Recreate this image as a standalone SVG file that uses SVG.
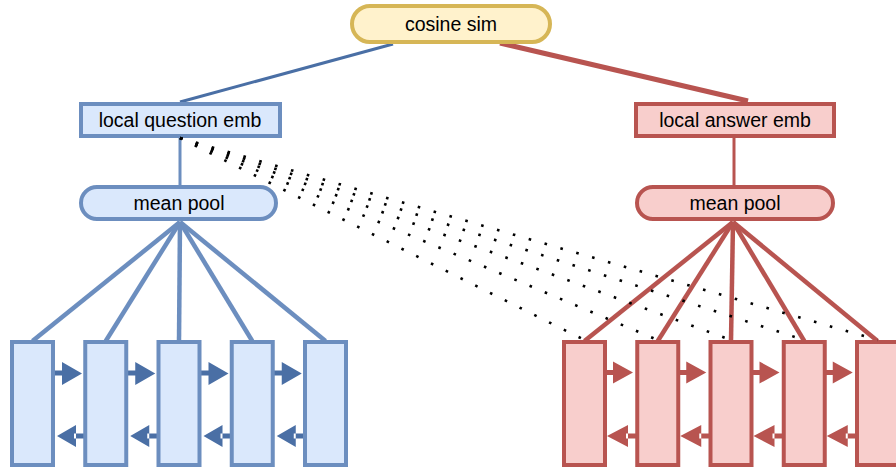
<svg xmlns="http://www.w3.org/2000/svg" width="896" height="474" viewBox="0 0 896 474">
<defs>
<style>
text{font-family:"Liberation Sans",Arial,sans-serif;font-size:19.5px;fill:#000;text-anchor:middle;dominant-baseline:central}
.q{fill:#dae8fc;stroke:#6c8ebf;stroke-width:4}
.a{fill:#f8cecc;stroke:#b85450;stroke-width:4}
.c{fill:#fff2cc;stroke:#d6b656;stroke-width:4}
.ql{stroke:#6c8ebf;stroke-width:4.5;fill:none}
.al{stroke:#b85450;stroke-width:4.5;fill:none}
.dot{stroke:#000;stroke-width:2.6;stroke-dasharray:2.6 13.9;fill:none}
.qa{fill:#4a6fa5}
.aa{fill:#b85450}
</style>
</defs>
<g id="connectors">
<line x1="393" y1="44" x2="180" y2="102" stroke="#4a6fa5" stroke-width="3"/>
<line x1="500" y1="43" x2="748" y2="101" stroke="#b85450" stroke-width="5"/>
<line x1="180" y1="138" x2="180" y2="185" stroke="#6c8ebf" stroke-width="3"/>
<line x1="734" y1="138" x2="734" y2="185" stroke="#b85450" stroke-width="3"/>
<g class="ql">
<line x1="180" y1="222" x2="32.5" y2="341"/>
<line x1="180" y1="222" x2="105.75" y2="341"/>
<line x1="180" y1="222" x2="179" y2="341"/>
<line x1="180" y1="222" x2="252.25" y2="341"/>
<line x1="180" y1="222" x2="325.5" y2="341"/>
</g>
<g class="al">
<line x1="733" y1="222" x2="584.5" y2="341"/>
<line x1="733" y1="222" x2="657.75" y2="341"/>
<line x1="733" y1="222" x2="731" y2="341"/>
<line x1="733" y1="222" x2="804.25" y2="341"/>
<line x1="733" y1="222" x2="877.5" y2="341"/>
</g>
<g id="qarrows" class="qa">
<path d="M54 370.5h10v5h-10z M62 362L82 373.5L62 385z"/>
<path d="M127.25 370.5h10v5h-10z M135.25 362L155.25 373.5L135.25 385z"/>
<path d="M200.5 370.5h10v5h-10z M208.5 362L228.5 373.5L208.5 385z"/>
<path d="M273.75 370.5h10v5h-10z M281.75 362L301.75 373.5L281.75 385z"/>
<path d="M74 433.5h10v5h-10z M76 425L57 436L76 447z"/>
<path d="M147.25 433.5h10v5h-10z M149.25 425L130.25 436L149.25 447z"/>
<path d="M220.5 433.5h10v5h-10z M222.5 425L203.5 436L222.5 447z"/>
<path d="M293.75 433.5h10v5h-10z M295.75 425L276.75 436L295.75 447z"/>
</g>
<g id="aarrows" class="aa">
<path d="M605 370h10v5h-10z M613 361.5L633 372.5L613 383.5z"/>
<path d="M678.25 370h10v5h-10z M686.25 361.5L706.25 372.5L686.25 383.5z"/>
<path d="M751.5 370h10v5h-10z M759.5 361.5L779.5 372.5L759.5 383.5z"/>
<path d="M824.75 370h10v5h-10z M832.75 361.5L852.75 372.5L832.75 383.5z"/>
<path d="M626 433.5h10v5h-10z M628 425L607 436L628 447z"/>
<path d="M699.25 433.5h10v5h-10z M701.25 425L680.25 436L701.25 447z"/>
<path d="M772.5 433.5h10v5h-10z M774.5 425L753.5 436L774.5 447z"/>
<path d="M845.75 433.5h10v5h-10z M847.75 425L826.75 436L847.75 447z"/>
</g>
</g>
<g id="cosine"><rect class="c" x="352" y="6" width="198" height="36" rx="18"/><text x="451" y="24">cosine sim</text></g>
<g id="q-emb"><rect class="q" x="81" y="104" width="199" height="32"/><text x="180" y="120">local question emb</text></g>
<g id="a-emb"><rect class="a" x="636" y="104" width="198" height="32"/><text x="735" y="120">local answer emb</text></g>
<g id="q-pool"><rect class="q" x="81" y="187" width="195" height="32" rx="16"/><text x="179" y="203">mean pool</text></g>
<g id="a-pool"><rect class="a" x="637" y="187" width="196" height="32" rx="16"/><text x="735" y="203">mean pool</text></g>
<g id="q1"><rect class="q" x="12" y="342" width="41" height="123"/></g>
<g id="q2"><rect class="q" x="85.25" y="342" width="41" height="123"/></g>
<g id="q3"><rect class="q" x="158.5" y="342" width="41" height="123"/></g>
<g id="q4"><rect class="q" x="231.75" y="342" width="41" height="123"/></g>
<g id="q5"><rect class="q" x="305" y="342" width="41" height="123"/></g>
<g id="a1"><rect class="a" x="564" y="342" width="41" height="123"/></g>
<g id="a2"><rect class="a" x="637.25" y="342" width="41" height="123"/></g>
<g id="a3"><rect class="a" x="710.5" y="342" width="41" height="123"/></g>
<g id="a4"><rect class="a" x="783.75" y="342" width="41" height="123"/></g>
<g id="a5"><rect class="a" x="857" y="342" width="41" height="123"/></g>
<g id="dotted" class="dot">
<line x1="180" y1="138" x2="584.5" y2="340"/>
<line x1="180" y1="138" x2="657.75" y2="340"/>
<line x1="180" y1="138" x2="731" y2="340"/>
<line x1="180" y1="138" x2="804.25" y2="340"/>
<line x1="180" y1="138" x2="877.5" y2="340"/>
</g>
</svg>
